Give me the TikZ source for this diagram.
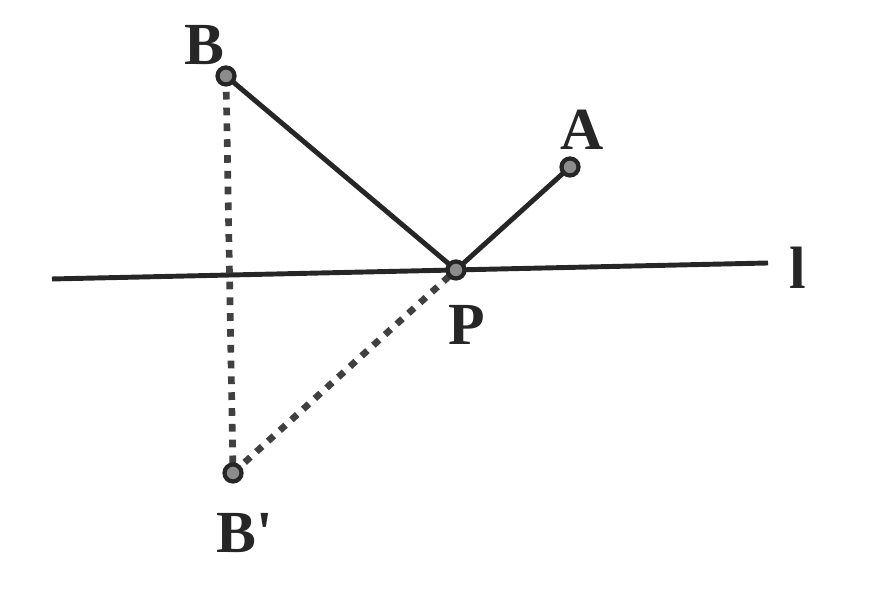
\documentclass[tikz,border=0pt]{standalone}
\usepackage{fontspec}
\setmainfont{Liberation Serif}
\begin{document}
\begin{tikzpicture}[
    pt/.style={circle, draw=black!85, line width=1.2pt, fill=black!45, inner sep=0pt, minimum size=0.17cm},
    lbl/.style={font=\fontsize{17}{19}\selectfont\bfseries, text=black!85},
    solidline/.style={line width=1.4pt, black!85},
    dotline/.style={line width=1.9pt, black!75, dash pattern=on 2.2pt off 2.3pt}
  ]
            \useasboundingbox (0, 0) rectangle (8.96, 5.96);
            \coordinate  (B) at (2.26, 5.20);
            \coordinate  (A) at (5.70, 4.29);
            \coordinate  (P) at (4.56, 3.26);
            \coordinate  (Bp) at (2.33, 1.23);
            \coordinate  (l0) at (0.52, 3.17);
            \coordinate  (l1) at (7.68, 3.33);
            \node [lbl] (labB) at (2.04, 5.51) {B};
            \node [lbl] (labA) at (5.82, 4.66) {A};
            \node [lbl] (labP) at (4.67, 2.71) {P};
            \node [lbl] (labBp) at (2.45, 0.63) {B\textquotesingle};
            \node [lbl] (labl) at (7.98, 3.28) {l};
            \draw [solidline] (l0) to (l1);
            \draw [solidline] (B) to (P);
            \draw [solidline] (P) to (A);
            \draw [dotline] (B) to (Bp);
            \draw [dotline] (Bp) to (P);
            \node [pt] (b) at (B) {};
            \node [pt] (a) at (A) {};
            \node [pt] (p) at (P) {};
            \node [pt] (bp) at (Bp) {};
\end{tikzpicture}
\end{document}
